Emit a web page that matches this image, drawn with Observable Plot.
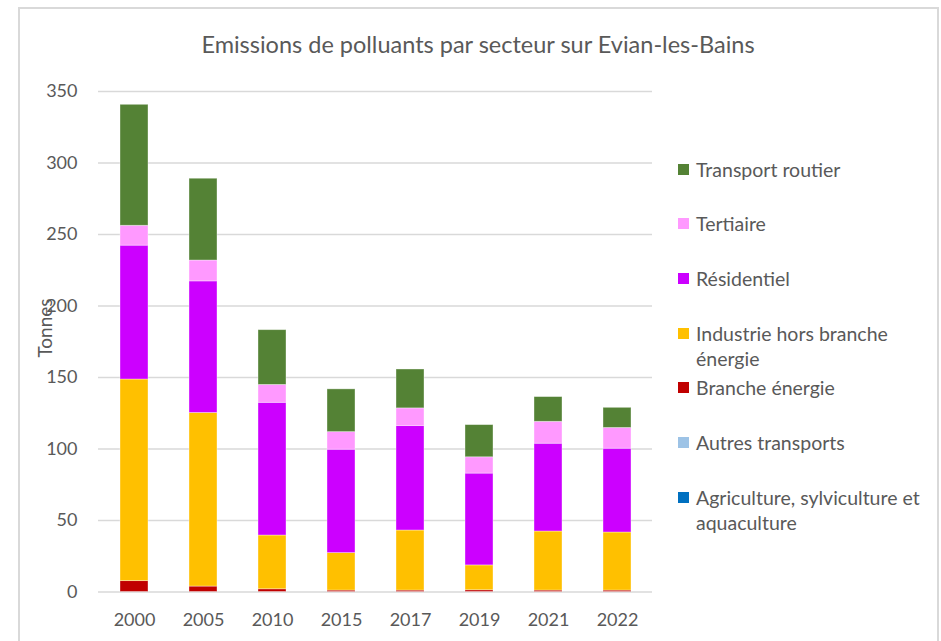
<!DOCTYPE html>
<html>
<head>
<meta charset="utf-8">
<script src="https://cdn.jsdelivr.net/npm/d3@7"></script>
<script src="https://cdn.jsdelivr.net/npm/@observablehq/plot@0.6"></script>
<style>
  html, body { margin: 0; padding: 0; background: #fff; overflow: hidden; }
  #wrap { position: relative; width: 941px; height: 641px; font-family: Lato, "Open Sans", sans-serif; color: #595959; }
  #frame { position: absolute; left: 18px; top: 7px; width: 921px; height: 700px; border: 2px solid #d9d9d9; box-sizing: border-box; }
  #title { position: absolute; left: 0; width: 956px; top: 29px; text-align: center; font-size: 23.5px; font-weight: 400; line-height: 30px; }
  #ylabel { position: absolute; left: 44px; top: 328px; transform: translate(-50%, -50%) rotate(-90deg); font-size: 19px; font-weight: 400; white-space: nowrap; }
  #chart { position: absolute; left: 0; top: 0; }
  .leg { position: absolute; left: 678px; font-size: 19.5px; font-weight: 400; line-height: 25px; white-space: nowrap; }
  .leg .sw { position: absolute; left: 0; top: 7px; width: 11px; height: 11px; }
  .leg .tx { position: absolute; left: 18px; top: 0; }
</style>
</head>
<body>
<div id="wrap">
  <div id="frame"></div>
  <div id="chart"></div>
  <div id="title">Emissions de polluants par secteur sur Evian-les-Bains</div>
  <div id="ylabel">Tonnes</div>
</div>
<script>
const years = ["2000", "2005", "2010", "2015", "2017", "2019", "2021", "2022"];
const agriculture = [0, 0, 0, 0, 0, 0, 0, 0];
const autresTransports = [0, 0, 0, 0, 0, 0, 0, 0];
const brancheEnergie = [7.6, 3.8, 1.9, 1.0, 1.0, 1.2, 1.0, 1.0];
const industrie = [141.0, 121.4, 37.6, 26.2, 42.0, 17.4, 41.3, 40.6];
const residentiel = [93.6, 92.0, 92.8, 72.3, 73.0, 64.2, 61.4, 58.6];
const tertiaire = [13.9, 14.6, 12.5, 12.3, 12.4, 11.4, 15.3, 14.5];
const transportRoutier = [84.6, 57.2, 38.3, 29.9, 27.2, 22.5, 17.3, 14.1];
const yTicks = [0, 50, 100, 150, 200, 250, 300, 350];

// stacking order: bottom to top
const sectors = [
  "Agriculture, sylviculture et aquaculture",
  "Autres transports",
  "Branche énergie",
  "Industrie hors branche énergie",
  "Résidentiel",
  "Tertiaire",
  "Transport routier"
];
const sectorColors = ["#0070C0", "#9DC3E6", "#C00000", "#FFC000", "#CC00FF", "#FF99FF", "#548235"];
const seriesValues = [agriculture, autresTransports, brancheEnergie, industrie, residentiel, tertiaire, transportRoutier];

// legend order (top to bottom) with its line breaks
const legendItems = [
  ["Transport routier"],
  ["Tertiaire"],
  ["Résidentiel"],
  ["Industrie hors branche", "énergie"],
  ["Branche énergie"],
  ["Autres transports"],
  ["Agriculture, sylviculture et", "aquaculture"]
];
const legendSectors = [...sectors].reverse();

const rows = [];
sectors.forEach((s, i) => {
  years.forEach((y, j) => rows.push({year: y, sector: s, value: seriesValues[i][j]}));
});

const chart = Plot.plot({
  width: 941,
  height: 641,
  marginLeft: 98,
  marginRight: 289,
  marginTop: 91,
  marginBottom: 49.5,
  style: {fontFamily: "Lato, 'Open Sans', sans-serif", fontWeight: 400, color: "#595959", background: "transparent"},
  x: {domain: years, paddingInner: 0.596, paddingOuter: 0.298},
  y: {domain: [0, 350]},
  color: {domain: sectors, range: sectorColors},
  marks: [
    Plot.gridY(yTicks, {stroke: "#d9d9d9", strokeOpacity: 1, strokeWidth: 1.3}),
    Plot.barY(rows, {x: "year", y: "value", fill: "sector", order: sectors, stroke: "#ffffff", strokeOpacity: 0.45, strokeWidth: 0.8}),
    Plot.axisY(yTicks, {tickSize: 0, tickPadding: 21, fontSize: 18, color: "#595959", label: null}),
    Plot.axisX({tickSize: 0, tickPadding: 21, fontSize: 18, color: "#595959", label: null})
  ]
});
document.getElementById("chart").appendChild(chart);

// legend
const wrap = document.getElementById("wrap");
const legendY0 = 169, legendStep = 54.7;
legendItems.forEach((lines, i) => {
  const sector = legendSectors[i];
  const color = sectorColors[sectors.indexOf(sector)];
  const div = document.createElement("div");
  div.className = "leg";
  div.style.top = (legendY0 + i * legendStep - 12.5) + "px";
  const sw = document.createElement("div");
  sw.className = "sw";
  sw.style.background = color;
  const tx = document.createElement("div");
  tx.className = "tx";
  tx.innerHTML = lines.join("<br>");
  div.appendChild(sw);
  div.appendChild(tx);
  wrap.appendChild(div);
});
</script>
</body>
</html>
